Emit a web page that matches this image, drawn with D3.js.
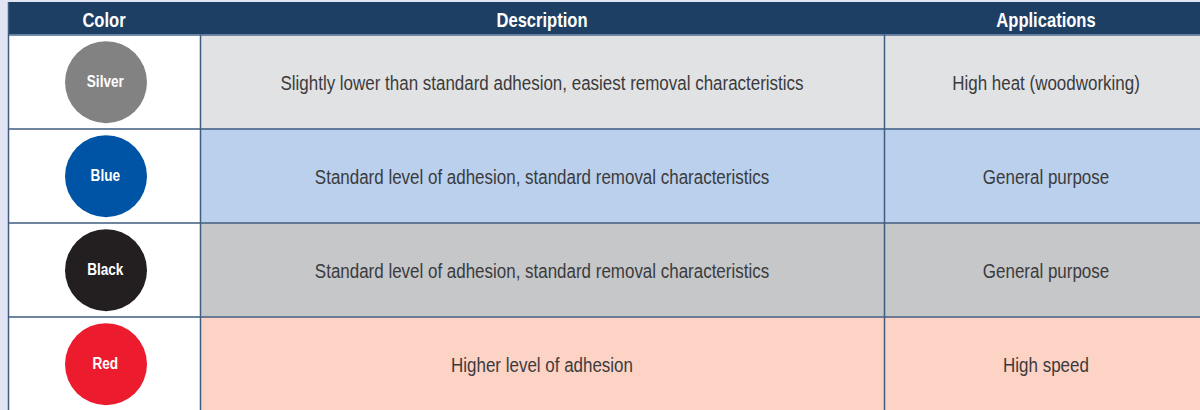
<!DOCTYPE html>
<html><head><meta charset="utf-8">
<script src="https://cdn.jsdelivr.net/npm/d3@7"></script>
<style>
html,body{margin:0;padding:0;background:#e1e4f2;overflow:hidden}
svg{display:block}
</style></head>
<body>
<script>
const headers = ["Color", "Description", "Applications"];
const colorNames = ["Silver", "Blue", "Black", "Red"];
const descriptions = [
  "Slightly lower than standard adhesion, easiest removal characteristics",
  "Standard level of adhesion, standard removal characteristics",
  "Standard level of adhesion, standard removal characteristics",
  "Higher level of adhesion"
];
const applications = ["High heat (woodworking)", "General purpose", "General purpose", "High speed"];
const swatchColors = ["#828283", "#0054a5", "#231f20", "#ed1b2e"];
const rowFills = ["#e1e2e4", "#bad0ec", "#c6c7c9", "#fdd3c6"];

const W = 1200, H = 410;
const font = "'Liberation Sans', Arial, sans-serif";
const svg = d3.select("body").append("svg").attr("width", W).attr("height", H);

// the table continues slightly past the right edge of the picture
const tLeft = 8, tRight = 1208, tTop = 2, headH = 32.5;
const colEdges = [tLeft, 200, 884, tRight];
const y = d3.scaleBand().domain(d3.range(colorNames.length)).range([tTop + headH, tTop + headH + 4 * 94]);

function ctext(sel, cx, cy, sx) {
  return sel.append("text")
    .attr("transform", (d, i) => `translate(${typeof cx === "function" ? cx(d, i) : cx},${cy}) scale(${sx},1)`)
    .attr("text-anchor", "middle").attr("font-family", font);
}

// header
svg.append("rect").attr("x", tLeft).attr("y", tTop).attr("width", tRight - tLeft).attr("height", headH).attr("fill", "#1d3f63");
const hg = svg.selectAll("g.h").data(headers).join("g").attr("class", "h");
ctext(hg, (d, i) => (colEdges[i] + colEdges[i + 1]) / 2, 26.7, 0.85)
  .attr("fill", "#fff").attr("font-weight", "bold").attr("font-size", 19.5)
  .text(d => d);

const rows = svg.selectAll("g.row").data(colorNames).join("g").attr("class", "row")
  .attr("transform", (d, i) => `translate(0,${y(i)})`);
const bh = y.bandwidth();
rows.append("rect").attr("x", tLeft).attr("y", 0).attr("width", colEdges[1] - tLeft).attr("height", bh).attr("fill", "#fff");
rows.append("rect").attr("x", colEdges[1]).attr("y", 0).attr("width", tRight - colEdges[1]).attr("height", bh)
  .attr("fill", (d, i) => rowFills[i]);
rows.append("circle").attr("cx", 106).attr("cy", bh / 2 + 0.7).attr("r", 41)
  .attr("fill", (d, i) => swatchColors[i]);
ctext(rows, 105.3, bh / 2 + 5.6, 0.8)
  .attr("fill", "#fff").attr("font-weight", "bold").attr("font-size", 17)
  .text(d => d);
ctext(rows, (colEdges[1] + colEdges[2]) / 2, bh / 2 + 8.3, 0.87)
  .attr("fill", "#3b3b3d").attr("font-size", 19.5)
  .text((d, i) => descriptions[i]);
ctext(rows, (colEdges[2] + colEdges[3]) / 2, bh / 2 + 8.3, 0.87)
  .attr("fill", "#3b3b3d").attr("font-size", 19.5)
  .text((d, i) => applications[i]);

// grid lines
const lineColor = "#3f5d80";
svg.selectAll("line.hz").data(d3.range(colorNames.length)).join("line")
  .attr("x1", tLeft).attr("x2", tRight)
  .attr("y1", i => y(i) + 0.5).attr("y2", i => y(i) + 0.5)
  .attr("stroke", i => i === 0 ? "#4a6a90" : lineColor).attr("stroke-width", 1.5);
svg.selectAll("line.vt").data(colEdges.slice(0, 3)).join("line")
  .attr("x1", d => d + 0.5).attr("x2", d => d + 0.5)
  .attr("y1", (d, i) => i === 0 ? tTop : tTop + headH).attr("y2", H)
  .attr("stroke", lineColor).attr("stroke-width", 1.5);
</script>
</body></html>
